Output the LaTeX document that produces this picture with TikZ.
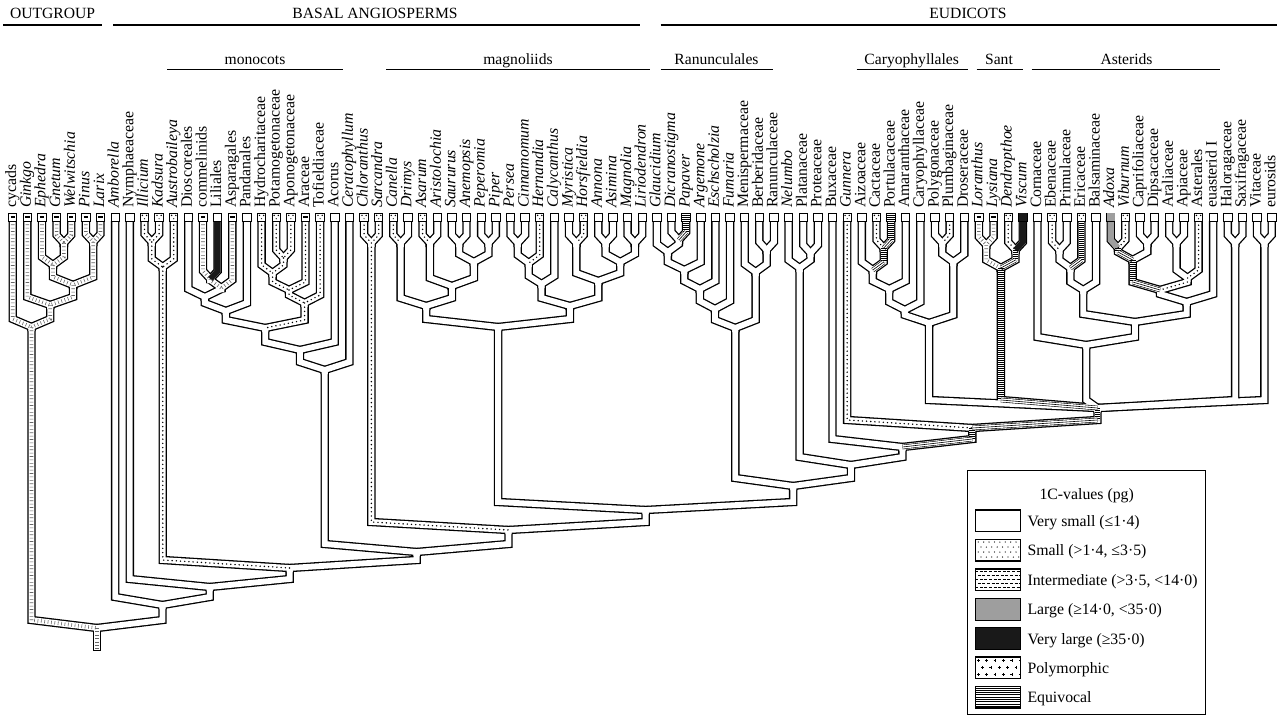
\documentclass[tikz,border=0pt]{standalone}
\usepackage{fontspec}
\setmainfont{Liberation Serif}
\usetikzlibrary{calc}
\newcommand\mk[4]{\path let \p1=($(#2)!0.5!(#3)$) in coordinate (#1) at (\x1,-#4pt);}
\newcommand\bend[2]{($(#1 |- #2)+(0,-8)$)}
\newcommand\patvs[2]{}
\newcommand\patint[2]{\draw[patint] (#1) -- \bend{#1}{#2} -- (#2);}
\newcommand\patsm[2]{\draw[patsm] (#1) -- \bend{#1}{#2} -- (#2);}
\newcommand\pateq[2]{\draw[pateqv] (#1) -- \bend{#1}{#2}; \draw[pateqh] \bend{#1}{#2} -- (#2);}
\newcommand\patlg[2]{\draw[patlg] (#1) -- \bend{#1}{#2} -- (#2);}
\newcommand\patvl[2]{\draw[patvl] (#1) -- \bend{#1}{#2} -- (#2);}
\newcommand\bmarkn[1]{}
\newcommand\bmarki[1]{\draw[line width=1.1pt] ($(#1)+(-2.2,0)$) -- ($(#1)+(2.2,0)$);}
\newcommand\bmarkp[1]{\fill ($(#1)+(-2.1,-1.6)$) circle[radius=0.8pt] ($(#1)+(2.1,-1.6)$) circle[radius=0.8pt] ($(#1)+(0,1.7)$) circle[radius=0.6pt];}
\newcommand\bmarke[1]{\draw[line width=0.5pt] ($(#1)+(-3.8,-1.8)$) -- ($(#1)+(3.8,-1.8)$) ($(#1)+(-3.8,0)$) -- ($(#1)+(3.8,0)$) ($(#1)+(-3.8,1.8)$) -- ($(#1)+(3.8,1.8)$);}
\newcommand\bmarkg[1]{\fill[black!38] ($(#1)+(-3.8,-3.6)$) rectangle ($(#1)+(3.8,3.6)$);}
\newcommand\bmarkb[1]{\fill[black!90] ($(#1)+(-3.8,-3.6)$) rectangle ($(#1)+(3.8,3.6)$);}
\newcommand\alledges{%
\EDG{t4}{g45}{int}\EDG{t5}{g45}{int}\EDG{t3}{g345}{int}\EDG{g45}{g345}{int}%
\EDG{t6}{g67}{int}\EDG{t7}{g67}{int}\EDG{g345}{ggc}{int}\EDG{g67}{ggc}{int}%
\EDG{t2}{g2}{int}\EDG{ggc}{g2}{int}\EDG{t1}{g1}{int}\EDG{g2}{g1}{int}%
\EDG{g1}{root}{int}\EDG{amb}{root}{vs}%
\EDG{t8}{amb}{vs}\EDG{nym}{amb}{vs}\EDG{t9}{nym}{vs}\EDG{n3}{nym}{vs}%
\EDG{aaus}{n3}{sm}\EDG{n4}{n3}{vs}%
\EDG{t10}{aik}{sm}\EDG{t11}{aik}{sm}\EDG{aik}{aaus}{sm}\EDG{t12}{aaus}{sm}%
\EDG{m5}{n4}{vs}\EDG{cme}{n4}{vs}%
\EDG{t14}{cl}{int}\EDG{t15}{cl}{vl}\EDG{cl}{cla}{int}\EDG{t16}{cla}{int}%
\EDG{t13}{m1}{vs}\EDG{cla}{m1}{vs}\EDG{m1}{m2}{vs}\EDG{t17}{m2}{vs}%
\EDG{t19}{pa}{sm}\EDG{t20}{pa}{sm}\EDG{t18}{hpa}{sm}\EDG{pa}{hpa}{sm}%
\EDG{hpa}{hpaa}{sm}\EDG{t21}{hpaa}{sm}\EDG{hpaa}{alism}{sm}\EDG{t22}{alism}{sm}%
\EDG{m2}{m3}{vs}\EDG{alism}{m3}{sm}\EDG{m3}{m4}{vs}\EDG{t23}{m4}{vs}%
\EDG{m4}{m5}{vs}\EDG{t24}{m5}{vs}%
\EDG{t25}{ch}{sm}\EDG{t26}{ch}{sm}\EDG{ch}{cme}{sm}\EDG{me}{cme}{vs}%
\EDG{t27}{c1}{sm}\EDG{t28}{c1}{vs}\EDG{t29}{ar}{sm}\EDG{t30}{ar}{vs}%
\EDG{t31}{sa}{vs}\EDG{t32}{sa}{vs}\EDG{t33}{pp}{vs}\EDG{t34}{pp}{vs}%
\EDG{sa}{sapp}{vs}\EDG{pp}{sapp}{vs}\EDG{ar}{pip}{vs}\EDG{sapp}{pip}{vs}%
\EDG{c1}{cp}{vs}\EDG{pip}{cp}{vs}%
\EDG{t35}{lpc}{vs}\EDG{t36}{lpc}{vs}\EDG{lpc}{lpch}{vs}\EDG{t37}{lpch}{sm}%
\EDG{lpch}{lau}{vs}\EDG{t38}{lau}{vs}%
\EDG{t39}{mh}{vs}\EDG{t40}{mh}{sm}\EDG{t41}{aa}{vs}\EDG{t42}{aa}{vs}%
\EDG{t43}{ml}{vs}\EDG{t44}{ml}{vs}\EDG{aa}{aaml}{vs}\EDG{ml}{aaml}{vs}%
\EDG{mh}{mag}{vs}\EDG{aaml}{mag}{vs}\EDG{lau}{lm}{vs}\EDG{mag}{lm}{vs}%
\EDG{cp}{magn}{vs}\EDG{lm}{magn}{vs}\EDG{magn}{me}{vs}\EDG{e0}{me}{vs}%
\EDG{t46}{dp}{vs}\EDG{t47}{dp}{eq}\EDG{t45}{s1}{vs}\EDG{dp}{s1}{vs}%
\EDG{s1}{s2}{vs}\EDG{t48}{s2}{vs}\EDG{s2}{s3}{vs}\EDG{t49}{s3}{vs}%
\EDG{s3}{s4}{vs}\EDG{t50}{s4}{vs}\EDG{t52}{br}{vs}\EDG{t53}{br}{vs}%
\EDG{t51}{mbr}{vs}\EDG{br}{mbr}{vs}\EDG{s4}{ranu}{vs}\EDG{mbr}{ranu}{vs}%
\EDG{ranu}{e0}{vs}\EDG{pbgc}{e0}{vs}%
\EDG{t55}{pl}{vs}\EDG{t56}{pl}{vs}\EDG{t54}{prot}{vs}\EDG{pl}{prot}{vs}%
\EDG{prot}{pbgc}{vs}\EDG{bgc}{pbgc}{vs}%
\EDG{t57}{bgc}{vs}\EDG{gc}{bgc}{eq}\EDG{t58}{gc}{sm}\EDG{core}{gc}{eq}%
\EDG{t60}{cpt}{sm}\EDG{t61}{cpt}{eq}\EDG{t59}{acp}{vs}\EDG{cpt}{acp}{eq}%
\EDG{acp}{acpa}{vs}\EDG{t62}{acpa}{vs}\EDG{acpa}{acpac}{vs}\EDG{t63}{acpac}{vs}%
\EDG{t64}{pp2}{vs}\EDG{t65}{pp2}{sm}\EDG{pp2}{ppd}{vs}\EDG{t66}{ppd}{vs}%
\EDG{acpac}{cary}{vs}\EDG{ppd}{cary}{vs}\EDG{cary}{core}{vs}%
\EDG{t67}{ll}{int}\EDG{t68}{ll}{int}\EDG{t69}{dv}{sm}\EDG{t70}{dv}{vl}%
\EDG{ll}{sant}{int}\EDG{dv}{sant}{eq}\EDG{sant}{core}{eq}%
\EDG{t72}{ep}{sm}\EDG{t73}{ep}{vs}\EDG{ep}{epe}{vs}\EDG{t74}{epe}{eq}%
\EDG{epe}{eri}{vs}\EDG{t75}{eri}{vs}%
\EDG{t76}{av}{lg}\EDG{t77}{av}{sm}\EDG{t78}{cd}{vs}\EDG{t79}{cd}{vs}%
\EDG{av}{dip}{eq}\EDG{cd}{dip}{vs}\EDG{t80}{apl}{vs}\EDG{t81}{apl}{vs}%
\EDG{apl}{apa}{vs}\EDG{t82}{apa}{sm}\EDG{dip}{dipa}{eq}\EDG{apa}{dipa}{sm}%
\EDG{dipa}{eua}{vs}\EDG{t83}{eua}{vs}\EDG{eri}{ec}{vs}\EDG{eua}{ec}{vs}%
\EDG{t71}{ast}{vs}\EDG{ec}{ast}{vs}\EDG{ast}{core}{vs}%
\EDG{t84}{sx}{vs}\EDG{t85}{sx}{vs}\EDG{t86}{ro}{vs}\EDG{t87}{ro}{vs}%
\EDG{sx}{core}{vs}\EDG{ro}{core}{vs}%
}
\begin{document}
\begin{tikzpicture}[x=1pt,y=-1pt,
  tubeout/.style={line width=8.4pt, draw=black},
  tubein/.style={line width=5.8pt, draw=white},
  patint/.style={line width=3.6pt, draw=black!60, dash pattern=on 0.6pt off 2.8pt},
  patsm/.style={line width=1.6pt, draw=black, line cap=round, dash pattern=on 0pt off 4.2pt},
  pateqv/.style={line width=5.8pt, draw=black, dash pattern=on 0.6pt off 1.4pt},
  pateqh/.style={line width=3.4pt, draw=white, preaction={draw=black, line width=4.6pt}, postaction={draw=black, line width=0.6pt}},
  patlg/.style={line width=5.8pt, draw=black!38},
  patvl/.style={line width=5.8pt, draw=black!90},
  leafbox/.style={draw=black, line width=0.9pt, fill=white, minimum width=8.4pt, minimum height=8pt, inner sep=0pt},
  tax/.style={rotate=90, anchor=base west, inner sep=0pt, font=\fontsize{15.8}{16}\selectfont},
  hdr/.style={anchor=base, inner sep=0pt, font=\fontsize{15.6}{16}\selectfont},
  sub/.style={anchor=base, inner sep=0pt, font=\fontsize{15.6}{16}\selectfont},
  bigline/.style={line width=2pt},
  subline/.style={line width=1.1pt},
  lgtxt/.style={inner sep=0pt, font=\fontsize{15.8}{16}\selectfont},
  swatch/.style={draw=black, line width=0.9pt, minimum width=44.6pt, minimum height=21pt, inner sep=0pt}
]
\useasboundingbox (0,0) rectangle (1286,715);
% leaves
\foreach \i in {1,...,87}{\coordinate (t\i) at ({12.7+14.64*(\i-1)},221);}
% internal nodes
\mk{g45}{t4}{t5}{243}
\mk{g345}{t3}{g45}{265}
\mk{g67}{t6}{t7}{242}
\mk{ggc}{g345}{g67}{285}
\mk{g2}{t2}{ggc}{305}
\mk{g1}{t1}{g2}{327}
\mk{aik}{t10}{t11}{242}
\mk{aaus}{aik}{t12}{267}
\mk{cl}{t14}{t15}{279}
\mk{cla}{cl}{t16}{288}
\mk{m1}{t13}{cla}{297}
\mk{m2}{m1}{t17}{311}
\mk{pa}{t19}{t20}{258}
\mk{hpa}{t18}{pa}{273}
\mk{hpaa}{hpa}{t21}{290}
\mk{alism}{hpaa}{t22}{303}
\mk{m3}{m2}{alism}{328}
\mk{m4}{m3}{t23}{350}
\mk{m5}{m4}{t24}{370}
\mk{ch}{t25}{t26}{243}
\mk{c1}{t27}{t28}{243}
\mk{ar}{t29}{t30}{243}
\mk{sa}{t31}{t32}{243}
\mk{pp}{t33}{t34}{243}
\mk{sapp}{sa}{pp}{262}
\mk{pip}{ar}{sapp}{286}
\mk{cp}{c1}{pip}{306}
\mk{lpc}{t35}{t36}{243}
\mk{lpch}{lpc}{t37}{263}
\mk{lau}{lpch}{t38}{284}
\mk{mh}{t39}{t40}{243}
\mk{aa}{t41}{t42}{243}
\mk{ml}{t43}{t44}{243}
\mk{aaml}{aa}{ml}{262}
\mk{mag}{mh}{aaml}{281}
\mk{lm}{lau}{mag}{306}
\mk{magn}{cp}{lm}{327}
\mk{dp}{t46}{t47}{240}
\mk{s1}{t45}{dp}{252}
\mk{s2}{s1}{t48}{270}
\mk{s3}{s2}{t49}{289}
\mk{s4}{s3}{t50}{309}
\mk{br}{t52}{t53}{250}
\mk{mbr}{t51}{br}{272}
\mk{ranu}{s4}{mbr}{328}
\mk{pl}{t55}{t56}{253}
\mk{prot}{t54}{pl}{268}
\mk{cpt}{t60}{t61}{248}
\mk{acp}{t59}{cpt}{270}
\mk{acpa}{acp}{t62}{289}
\mk{acpac}{acpa}{t63}{310}
\mk{pp2}{t64}{t65}{243}
\mk{ppd}{pp2}{t66}{262}
\mk{cary}{acpac}{ppd}{323}
\mk{ll}{t67}{t68}{245}
\mk{dv}{t69}{t70}{250}
\mk{sant}{ll}{dv}{268}
\mk{ep}{t72}{t73}{250}
\mk{epe}{ep}{t74}{268}
\mk{eri}{epe}{t75}{290}
\mk{av}{t76}{t77}{248}
\mk{cd}{t78}{t79}{243}
\mk{dip}{av}{cd}{260}
\mk{apl}{t80}{t81}{243}
\mk{apa}{apl}{t82}{278}
\mk{dipa}{dip}{apa}{290}
\mk{eua}{dipa}{t83}{302}
\mk{ec}{eri}{eua}{322}
\mk{ast}{t71}{ec}{345}
\mk{sx}{t84}{t85}{243}
\mk{ro}{t86}{t87}{243}
\coordinate (core) at (1097.5,408);
\mk{gc}{t58}{core}{428}
\mk{bgc}{t57}{gc}{447}
\mk{pbgc}{prot}{bgc}{465}
\mk{e0}{ranu}{pbgc}{486}
\mk{me}{magn}{e0}{510}
\mk{cme}{ch}{me}{530}
\mk{n4}{m5}{cme}{552}
\mk{n3}{aaus}{n4}{568}
\mk{nym}{t9}{n3}{587}
\mk{amb}{t8}{nym}{605}
\mk{root}{g1}{amb}{628}
\coordinate (rootend) at ($(root)+(0,22)$);
% pass 1: outlines
\def\EDG#1#2#3{\draw[tubeout] (#1) -- \bend{#1}{#2} -- (#2) -- ++(0,4);}
\alledges
\draw[tubeout] (root) -- ($(rootend)+(0,1.3)$);
% pass 2: interiors
\def\EDG#1#2#3{\draw[tubein] (#1) -- \bend{#1}{#2} -- (#2) -- ++(0,4);}
\alledges
\draw[tubein] (root) -- (rootend);
% pass 3: patterns
\def\EDG#1#2#3{\csname pat#3\endcsname{#1}{#2}}
\alledges
\draw[patint] (root) -- ($(rootend)+(0,-1)$);
% leaf boxes
\foreach \i/\m in {1/i,2/i,3/i,4/i,5/i,6/i,7/i,8/n,9/n,10/p,11/p,12/p,13/n,14/i,15/n,16/i,17/n,18/p,19/p,20/p,21/i,22/p,23/n,24/n,25/p,26/p,27/p,28/n,29/p,30/n,31/n,32/n,33/n,34/n,35/n,36/n,37/p,38/n,39/n,40/p,41/n,42/n,43/n,44/n,45/n,46/n,47/e,48/n,49/n,50/n,51/n,52/n,53/n,54/n,55/n,56/n,57/n,58/p,59/n,60/p,61/e,62/n,63/n,64/n,65/n,66/n,67/i,68/i,69/p,70/b,71/n,72/p,73/n,74/p,75/n,76/g,77/p,78/n,79/n,80/n,81/n,82/p,83/n,84/n,85/n,86/n,87/n}
  {\node[leafbox] (b\i) at ($(t\i)+(0,-4)$) {}; \csname bmark\m\endcsname{b\i}}
% taxon labels
\foreach \i/\lab in {1/cycads,2/\textit{Ginkgo},3/\textit{Ephedra},4/\textit{Gnetum},5/\textit{Welwitschia},6/\textit{Pinus},7/\textit{Larix},8/\textit{Amborella},9/Nymphaeaceae,10/\textit{Illicium},11/\textit{Kadsura},12/\textit{Austrobaileya},13/Dioscoreales,14/commelinids,15/Liliales,16/Asparagales,17/Pandanales,18/Hydrocharitaceae,19/Potamogetonaceae,20/Aponogetonaceae,21/Araceae,22/Tofieldiaceae,23/Acorus,24/\textit{Ceratophyllum},25/\textit{Chloranthus},26/\textit{Sarcandra},27/\textit{Canella},28/\textit{Drimys},29/\textit{Asarum},30/\textit{Aristolochia},31/\textit{Saururus},32/\textit{Anemopsis},33/\textit{Peperomia},34/\textit{Piper},35/\textit{Persea},36/\textit{Cinnamomum},37/\textit{Hernandia},38/\textit{Calycanthus},39/\textit{Myristica},40/\textit{Horsfieldia},41/\textit{Annona},42/\textit{Asimina},43/\textit{Magnolia},44/\textit{Liriodendron},45/\textit{Glaucidium},46/\textit{Dicranostigma},47/\textit{Papaver},48/\textit{Argemone},49/\textit{Eschscholzia},50/\textit{Fumaria},51/Menispermaceae,52/Berberidaceae,53/Ranunculaceae,54/\textit{Nelumbo},55/Platanaceae,56/Proteaceae,57/Buxaceae,58/\textit{Gunnera},59/Aizoaceae,60/Cactaceae,61/Portulacaceae,62/Amaranthaceae,63/Caryophyllaceae,64/Polygonaceae,65/Plumbaginaceae,66/Droseraceae,67/\textit{Loranthus},68/\textit{Lysiana},69/\textit{Dendropthoe},70/\textit{Viscum},71/Cornaceae,72/Ebenaceae,73/Primulaceae,74/Ericaceae,75/Balsaminaceae,76/\textit{Adoxa},77/\textit{Viburnum},78/Caprifoliaceae,79/Dipsacaceae,80/Araliaceae,81/Apiaceae,82/Asterales,83/euasterid I,84/Haloragaceae,85/Saxifragaceae,86/Vitaceae,87/eurosids}
  {\node[tax] (l\i) at ($(t\i)+(3.5,-13)$) {\lab};}
% group headers
\node[hdr] (hOG) at (52.5,18.3) {OUTGROUP};
\node[hdr] (hBA) at (375,18.3) {BASAL ANGIOSPERMS};
\node[hdr] (hEU) at (968,18.3) {EUDICOTS};
\draw[bigline] (3.3,25) -- (101.7,25);
\draw[bigline] (113,25) -- (640,25);
\draw[bigline] (660.7,25) -- (1276.7,25);
\node[sub] (sMo) at (255,64.5) {monocots};
\node[sub] (sMa) at (518,64.5) {magnoliids};
\node[sub] (sRa) at (716.5,64.5) {Ranunculales};
\node[sub] (sCa) at (911.7,64.5) {Caryophyllales};
\node[sub] (sSa) at (999,64.5) {Sant};
\node[sub] (sAs) at (1126.5,64.5) {Asterids};
\draw[subline] (167,69.3) -- (343,69.3);
\draw[subline] (386,69.3) -- (650,69.3);
\draw[subline] (660.7,69.3) -- (773.3,69.3);
\draw[subline] (856.7,69.3) -- (968.3,69.3);
\draw[subline] (976.7,69.3) -- (1022.7,69.3);
\draw[subline] (1031.7,69.3) -- (1220,69.3);
% legend
\node[draw=black, line width=0.9pt, minimum width=237.7pt, minimum height=243.3pt, inner sep=0pt] (legend) at (1086.15,592.35) {};
\node[lgtxt, anchor=base] (lgt) at (1086.7,499.5) {1C-values (pg)};
\foreach \r/\y in {1/520.5,2/550,3/579.8,4/609.2,5/638.5,6/667.8,7/697.2}
  {\node[swatch] (sw\r) at (998,\y) {};}
\fill[black!38] (sw4.south west) rectangle (sw4.north east);
\fill[black!90] (sw5.south west) rectangle (sw5.north east);
\begin{scope}
\clip (sw2.south west) rectangle (sw2.north east);
\foreach \a in {0,...,8}{\foreach \b in {0,...,3}{\fill ($(sw2.north west)+({3+\a*5.4+mod(\b,2)*2.7},{3+\b*5})$) circle[radius=0.65pt];}}
\end{scope}
\begin{scope}
\clip (sw3.south west) rectangle (sw3.north east);
\foreach \b in {0,...,4}{\draw[line width=0.5pt, dash pattern=on 3pt off 1.6pt, dash phase={mod(\b,2)*2pt}] ($(sw3.north west)+(0,{2.6+\b*4})$) -- ++(44.6,0);}
\end{scope}
\begin{scope}
\clip (sw6.south west) rectangle (sw6.north east);
\foreach \a in {0,...,5}{\foreach \b in {0,...,2}{\draw[line width=0.5pt] ($(sw6.north west)+({3+\a*8.4+mod(\b,2)*4.2-1.4},{3.5+\b*7})$) -- ++(2.8,0) ($(sw6.north west)+({3+\a*8.4+mod(\b,2)*4.2},{3.5+\b*7-1.4})$) -- ++(0,2.8);}}
\end{scope}
\begin{scope}
\clip (sw7.south west) rectangle (sw7.north east);
\foreach \b in {0,...,8}{\draw[line width=0.5pt] ($(sw7.north west)+(0,{1.5+\b*2.3})$) -- ++(44.6,0);}
\end{scope}
\foreach \r in {1,...,7}{\draw[line width=0.9pt] (sw\r.south west) rectangle (sw\r.north east);}
\foreach \r/\y/\t in {1/520.5/{Very small (≤1·4)},2/550/{Small (>1·4, ≤3·5)},3/579.8/{Intermediate (>3·5, <14·0)},4/609.2/{Large (≥14·0, <35·0)},5/638.5/{Very large (≥35·0)},6/667.8/{Polymorphic},7/697.2/{Equivocal}}
  {\node[lgtxt, anchor=base west] (lx\r) at (1027.3,{\y+5.5}) {\t};}
\end{tikzpicture}
\end{document}
